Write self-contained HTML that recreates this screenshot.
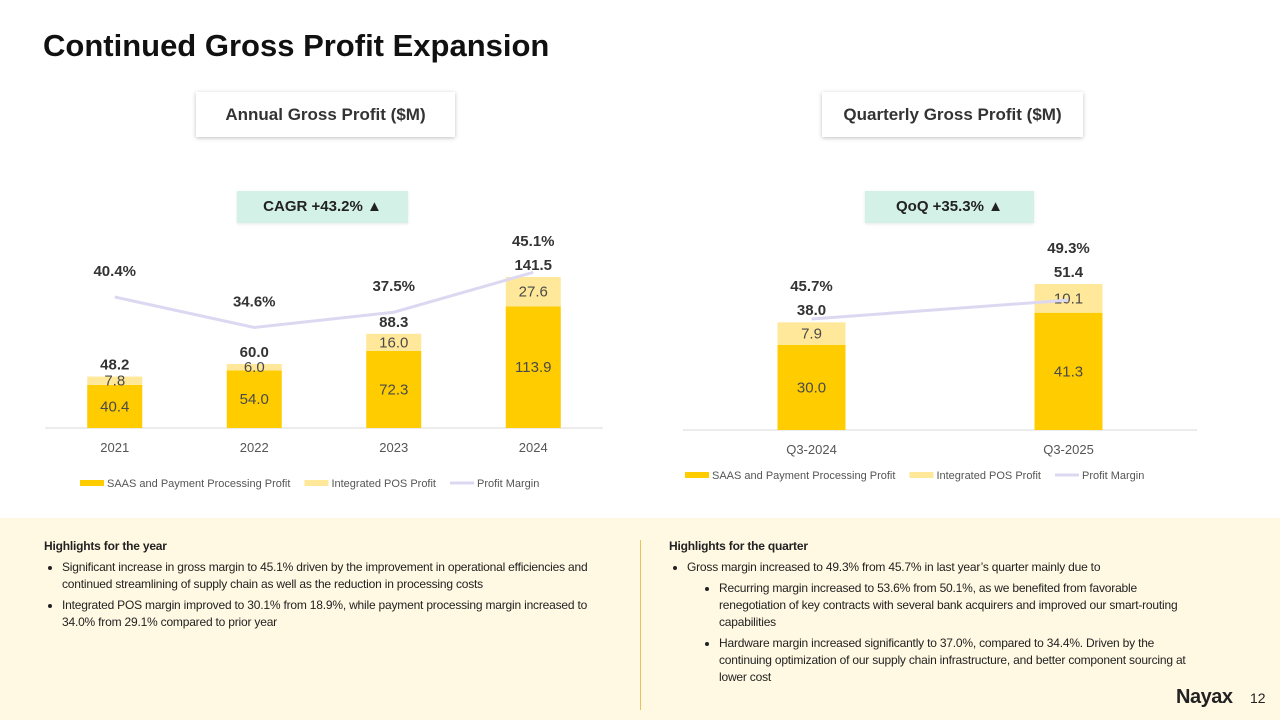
<!DOCTYPE html>
<html><head><meta charset="utf-8"><style>
body{margin:0;width:1280px;height:720px;position:relative;background:#fff;font-family:"Liberation Sans",sans-serif;overflow:hidden;color:#222}
.abs{position:absolute}
.tbox{position:absolute;background:#fff;box-shadow:0 1px 4px rgba(0,0,0,.25);font-weight:bold;font-size:17px;text-align:center;line-height:45px;color:#333}
.gbox{position:absolute;background:#d3f1e7;font-weight:bold;font-size:15px;text-align:center;line-height:32px;color:#222;box-shadow:0 1px 3px rgba(0,0,0,.1)}
.panel{position:absolute;left:0;top:518px;width:1280px;height:202px;background:#fff8e2}
.hl{font-size:12px;line-height:17px;color:#222;letter-spacing:-0.2px}
.hl b{display:block;margin-bottom:4px}
.hl ul{margin:0;padding-left:18px;list-style:disc}
.hl li{margin-bottom:4px}
</style></head><body>
<div class="abs" style="left:43px;top:28px;font-size:31px;font-weight:bold;color:#111">Continued Gross Profit Expansion</div>
<div class="tbox" style="left:196px;top:92px;width:259px;height:45px">Annual Gross Profit ($M)</div>
<div class="tbox" style="left:822px;top:92px;width:261px;height:45px">Quarterly Gross Profit ($M)</div>
<div class="gbox" style="left:237px;top:191px;width:171px;height:32px">CAGR +43.2% ▲</div>
<div class="gbox" style="left:865px;top:191px;width:169px;height:32px">QoQ +35.3% ▲</div>
<svg id="chart" class="abs" style="left:0;top:0" width="1280" height="520"></svg>
<div class="panel">
<div class="abs" style="left:640px;top:22px;width:1px;height:170px;background:#e8c25a"></div>
<div class="abs hl" style="left:44px;top:20px;width:545px">
<b>Highlights for the year</b>
<ul><li>Significant increase in gross margin to 45.1% driven by the improvement in operational efficiencies and continued streamlining of supply chain as well as the reduction in processing costs</li>
<li>Integrated POS margin improved to 30.1% from 18.9%, while payment processing margin increased to 34.0% from 29.1% compared to prior year</li></ul></div>
<div class="abs hl" style="left:669px;top:20px;width:520px">
<b>Highlights for the quarter</b>
<ul><li>Gross margin increased to 49.3% from 45.7% in last year’s quarter mainly due to
<ul style="padding-left:32px;margin-top:4px;list-style:disc"><li>Recurring margin increased to 53.6% from 50.1%, as we benefited from favorable renegotiation of key contracts with several bank acquirers and improved our smart-routing capabilities</li>
<li>Hardware margin increased significantly to 37.0%, compared to 34.4%. Driven by the continuing optimization of our supply chain infrastructure, and better component sourcing at lower cost</li></ul></li></ul></div>
<div class="abs" style="left:1176px;top:168px;font-size:20px;font-weight:bold;color:#222;letter-spacing:-0.5px">Nayax</div>
<div class="abs" style="left:1250px;top:172px;font-size:14px">12</div>
</div>
<script>
const annualCats=["2021","2022","2023","2024"];
const annualSaas=[40.4,54.0,72.3,113.9];
const annualPos=[7.8,6.0,16.0,27.6];
const annualTotal=[48.2,60.0,88.3,141.5];
const annualMargin=[40.4,34.6,37.5,45.1];
const qCats=["Q3-2024","Q3-2025"];
const qSaas=[30.0,41.3];
const qPos=[7.9,10.1];
const qTotal=[38.0,51.4];
const qMargin=[45.7,49.3];
const svg=document.getElementById('chart');
const NS='http://www.w3.org/2000/svg';
function mk(tag,attrs,txt){const e=document.createElementNS(NS,tag);for(const k in attrs)e.setAttribute(k,attrs[k]);if(txt!==undefined)e.textContent=txt;svg.appendChild(e);return e;}
function chart(o){
  const {cats,saas,pos,total,margin,x0,x1,base,perUnit,mY,mK,bw,legY,pfx}=o;
  const step=(x1-x0)/cats.length;
  const xc=i=>x0+step*(i+0.5);
  const y=v=>base-v*perUnit;
  const ym=v=>mY-(v-mK)*5.25;
  let a=mk('line',{x1:x0,x2:x1,y1:base,y2:base,stroke:'#d9d9d9','stroke-width':1});
  
  cats.forEach((c,i)=>{
    const cx=xc(i);
    let r=mk('rect',{x:cx-bw/2,y:y(saas[i]),width:bw,height:saas[i]*perUnit,fill:'#ffcc00'});
    
    let r2=mk('rect',{x:cx-bw/2,y:y(saas[i]+pos[i]),width:bw,height:pos[i]*perUnit,fill:'#ffe899'});
    
    mk('text',{x:cx,y:y(saas[i]/2)+5,'text-anchor':'middle','font-size':15,fill:'#4a4a4a'},saas[i].toFixed(1));
    mk('text',{x:cx,y:y(saas[i]+pos[i]/2)+5,'text-anchor':'middle','font-size':15,fill:'#4a4a4a'},pos[i].toFixed(1));
    mk('text',{x:cx,y:y(total[i])-7,'text-anchor':'middle','font-size':15,'font-weight':'bold',fill:'#333'},total[i].toFixed(1));
    let t=mk('text',{x:cx,y:base+24,'text-anchor':'middle','font-size':13,fill:'#555'},c);
    
  });
  const pts=margin.map((m,i)=>xc(i)+','+ym(m)).join(' ');
  let pl=mk('polyline',{points:pts,fill:'none',stroke:'#dcd8f2','stroke-width':3});
  
  margin.forEach((m,i)=>{
    const ly=Math.min(ym(m)-21, y(total[i])-31);
    mk('text',{x:xc(i),y:ly,'text-anchor':'middle','font-size':15,'font-weight':'bold',fill:'#333'},m.toFixed(1)+'%');
  });
  let lx=o.legX;
  const items=[['SAAS and Payment Processing Profit','#ffcc00','rect'],['Integrated POS Profit','#ffe899','rect'],['Profit Margin','#dcd8f2','line']];
  items.forEach(it=>{
    if(it[2]==='rect'){let s=mk('rect',{x:lx,y:legY-7,width:24,height:6,fill:it[1]});}
    else{let s=mk('line',{x1:lx,x2:lx+24,y1:legY-4,y2:legY-4,stroke:it[1],'stroke-width':3});}
    let t=mk('text',{x:lx+27,y:legY,'font-size':11,fill:'#555'},it[0]);
    
    lx+=27+t.getComputedTextLength()+14;
  });
}
chart({cats:annualCats,saas:annualSaas,pos:annualPos,total:annualTotal,margin:annualMargin,x0:45,x1:603,base:428,perUnit:1.067,mY:297,mK:40.4,bw:55,legY:487,legX:80,pfx:'annual'});
chart({cats:qCats,saas:qSaas,pos:qPos,total:qTotal,margin:qMargin,x0:683,x1:1197,base:430,perUnit:2.84,mY:319,mK:45.7,bw:68,legY:479,legX:685,pfx:'quarterly'});
</script>
</body></html>
